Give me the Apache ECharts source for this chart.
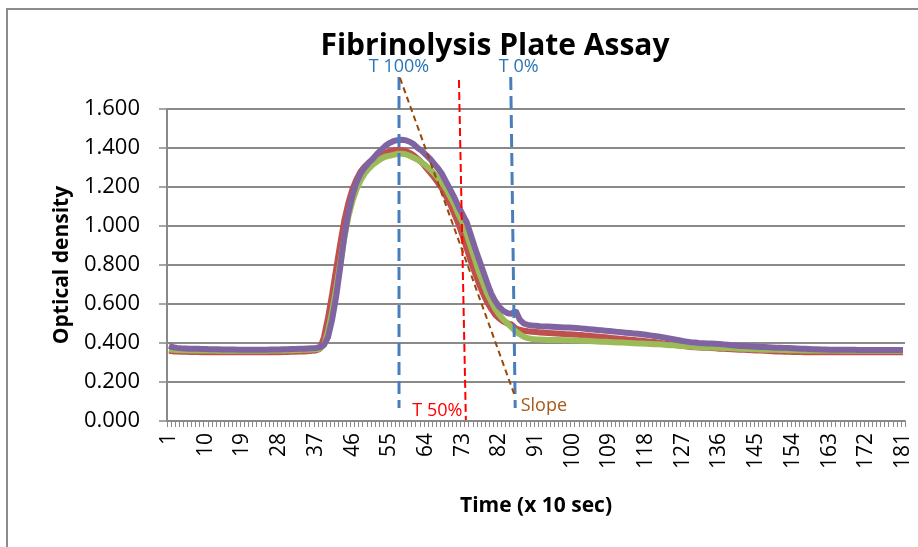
<!DOCTYPE html>
<html>
<head>
<meta charset="utf-8">
<script src="https://cdn.jsdelivr.net/npm/echarts@6/dist/echarts.min.js"></script>
<style>
  html, body { margin: 0; padding: 0; background: #fff; }
  #chart { width: 918px; height: 547px; }
</style>
</head>
<body>
<div id="chart"></div>
<script>
// time points 1..181 (x 10 sec)
var categories = Array.from({ length: 181 }, function(_, i) { return String(i + 1); });

var yTicks = [0, 0.2, 0.4, 0.6, 0.8, 1.0, 1.2, 1.4, 1.6];

// optical density
var redValues = [
  0.360,0.357,0.356,0.355,0.355,0.354,0.354,0.354,0.353,0.353,
  0.353,0.353,0.352,0.352,0.352,0.352,0.352,0.352,0.352,0.352,
  0.352,0.352,0.352,0.352,0.352,0.353,0.353,0.353,0.354,0.354,
  0.355,0.355,0.356,0.357,0.358,0.360,0.362,
  0.370,0.430,0.530,0.650,0.780,0.910,1.030,1.120,1.190,1.240,1.280,1.305,1.325,
  1.340,1.355,1.365,1.375,1.382,1.388,1.390,1.390,1.385,1.375,
  1.362,1.345,1.325,1.300,1.275,1.250,1.220,1.190,1.150,1.110,
  1.060,1.010,0.950,0.885,0.820,0.760,0.705,0.655,0.610,0.575,
  0.545,0.525,0.510,0.500,0.495,0.475,0.468,0.463,0.460,0.458,
  0.456,0.454,0.452,0.451,0.450,0.449,0.448,0.446,0.445,0.444,
  0.442,0.441,0.439,0.437,0.435,0.433,0.431,0.429,0.427,0.425,
  0.423,0.421,0.419,0.417,0.415,0.413,0.411,0.409,0.407,0.405,
  0.402,0.399,0.396,0.393,0.390,0.387,0.384,0.382,0.380,0.378,
  0.377,0.376,0.375,0.374,0.373,0.371,0.370,0.369,0.368,0.367,
  0.366,0.365,0.364,0.363,0.362,0.361,0.360,0.359,0.358,0.357,
  0.356,0.355,0.355,0.354,0.354,0.354,0.353,0.353,0.353,0.353,
  0.353,0.352,0.352,0.352,0.352,0.352,0.352,0.352,0.352,0.352,
  0.352,0.352,0.352,0.352,0.352,0.352,0.352,0.352,0.352,0.352,0.352
];

var greenValues = [
  0.368,0.365,0.364,0.363,0.363,0.362,0.362,0.362,0.361,0.361,
  0.361,0.361,0.360,0.360,0.360,0.360,0.360,0.360,0.360,0.360,
  0.360,0.360,0.360,0.360,0.360,0.361,0.361,0.361,0.362,0.362,
  0.363,0.363,0.364,0.365,0.366,0.367,0.368,
  0.370,0.390,0.460,0.560,0.680,0.810,0.940,1.050,1.130,1.190,1.235,1.270,1.295,
  1.315,1.330,1.345,1.355,1.360,1.365,1.370,1.370,1.368,1.360,
  1.350,1.340,1.325,1.310,1.290,1.270,1.245,1.220,1.190,1.150,
  1.110,1.060,1.020,0.960,0.895,0.830,0.765,0.710,0.655,0.615,
  0.575,0.545,0.520,0.500,0.480,0.460,0.445,0.432,0.425,0.421,
  0.419,0.418,0.417,0.416,0.416,0.415,0.415,0.414,0.414,0.413,
  0.413,0.412,0.411,0.410,0.409,0.408,0.407,0.406,0.405,0.404,
  0.403,0.402,0.401,0.400,0.399,0.398,0.397,0.396,0.395,0.394,
  0.393,0.392,0.390,0.389,0.388,0.386,0.385,0.383,0.382,0.380,
  0.379,0.378,0.377,0.377,0.376,0.375,0.374,0.374,0.373,0.372,
  0.371,0.370,0.369,0.368,0.368,0.367,0.366,0.366,0.365,0.365,
  0.364,0.364,0.363,0.363,0.363,0.362,0.362,0.362,0.362,0.361,
  0.361,0.361,0.361,0.361,0.361,0.360,0.360,0.360,0.360,0.360,
  0.360,0.360,0.360,0.360,0.360,0.360,0.360,0.360,0.360,0.360,0.360
];

var purpleValues = [
  0.385,0.378,0.375,0.373,0.372,0.371,0.370,0.370,0.369,0.369,
  0.368,0.368,0.368,0.367,0.367,0.367,0.367,0.366,0.366,0.366,
  0.366,0.366,0.366,0.366,0.366,0.367,0.367,0.367,0.368,0.368,
  0.369,0.369,0.370,0.371,0.372,0.373,0.374,
  0.378,0.390,0.430,0.520,0.640,0.790,0.950,1.070,1.160,1.225,1.270,1.300,1.325,
  1.345,1.370,1.390,1.410,1.425,1.435,1.440,1.442,1.440,1.432,
  1.420,1.400,1.385,1.365,1.345,1.320,1.295,1.265,1.225,1.185,
  1.145,1.100,1.060,1.020,0.955,0.890,0.830,0.770,0.710,0.655,
  0.615,0.585,0.565,0.553,0.550,0.565,0.520,0.500,0.493,0.490,
  0.488,0.486,0.485,0.484,0.483,0.482,0.481,0.480,0.479,0.478,
  0.477,0.475,0.473,0.471,0.469,0.467,0.465,0.463,0.461,0.459,
  0.457,0.455,0.453,0.451,0.449,0.447,0.445,0.442,0.439,0.436,
  0.433,0.430,0.426,0.422,0.418,0.414,0.410,0.407,0.404,0.402,
  0.400,0.399,0.398,0.397,0.396,0.395,0.393,0.391,0.389,0.387,
  0.385,0.384,0.383,0.382,0.381,0.380,0.379,0.378,0.377,0.376,
  0.376,0.375,0.374,0.373,0.372,0.371,0.370,0.369,0.368,0.368,
  0.367,0.367,0.366,0.366,0.366,0.365,0.365,0.365,0.365,0.364,
  0.364,0.364,0.364,0.364,0.364,0.364,0.364,0.364,0.364,0.364,0.364
];

// hand-drawn annotation lines: [time, optical density] end points
var t100Line = [[57.4, 1.764], [57.4, 0.067]];
var t50Line = [[72.1, 1.749], [73.8, 0.005]];
var t0Line = [[84.8, 1.764], [85.9, 0.067]];
var slopeLine = [[57.65, 1.759], [85.9, 0.123]];

var FONT = '"Open Sans", "Liberation Sans", sans-serif';

var chart = echarts.init(document.getElementById('chart'));

function curve(name, color, values) {
    return {
        name: name,
        type: 'line',
        data: values,
        symbol: 'none',
        smooth: false,
        lineStyle: { color: color, width: 6 },
        itemStyle: { color: color },
        silent: true
    };
}

// dashed annotation line with a text label on one end
function annotation(points, color, width, dash, labelIdx, text, label) {
    var data = points.map(function(p, i) {
        var item = { value: p };
        if (i === labelIdx) {
            item.label = Object.assign({
                show: true,
                formatter: text,
                color: color,
                fontFamily: FONT,
                fontSize: 18
            }, label);
        }
        return item;
    });
    return {
        type: 'line',
        xAxisIndex: 1,
        yAxisIndex: 0,
        data: data,
        clip: false,
        symbol: 'circle',
        symbolSize: 1,
        showSymbol: true,
        itemStyle: { color: 'transparent' },
        lineStyle: { color: color, width: width, type: dash },
        silent: true,
        z: 5
    };
}

var splitColors = yTicks.map(function() { return '#898989'; });

chart.setOption({
    animation: false,
    backgroundColor: '#fff',
    graphic: [{
        type: 'rect',
        shape: { x: 7, y: 9, width: 1000, height: 1000 },
        style: { fill: 'none', stroke: '#8c8c8c', lineWidth: 2 },
        silent: true
    }],
    title: {
        text: 'Fibrinolysis Plate Assay',
        left: 490,
        textAlign: 'center',
        top: 26,
        textStyle: { fontFamily: FONT, fontSize: 30, fontWeight: 'bold', color: '#000' }
    },
    grid: { left: 167, right: 13, top: 109, bottom: 126 },
    xAxis: [{
        type: 'category',
        data: categories,
        boundaryGap: true,
        name: 'Time (x 10 sec)',
        nameLocation: 'middle',
        nameGap: 75,
        nameTextStyle: { fontFamily: FONT, fontSize: 21, fontWeight: 'bold', color: '#000' },
        axisLine: { lineStyle: { color: '#898989', width: 2 } },
        axisTick: { show: true, interval: 0, length: 6, lineStyle: { color: '#898989', width: 1 } },
        axisLabel: {
            interval: 8,
            rotate: 90,
            margin: 12,
            fontFamily: FONT,
            fontSize: 21,
            color: '#000'
        },
        splitLine: { show: false }
    }, {
        type: 'value',
        min: 0.5,
        max: 181.5,
        show: false
    }],
    yAxis: {
        type: 'value',
        min: 0,
        max: 1.6,
        interval: 0.2,
        name: 'Optical density',
        nameLocation: 'middle',
        nameGap: 93,
        nameTextStyle: { fontFamily: FONT, fontSize: 21, fontWeight: 'bold', color: '#000' },
        axisLine: { show: true, lineStyle: { color: '#898989', width: 2 } },
        axisTick: { show: true, length: 8, lineStyle: { color: '#898989', width: 1.5 } },
        axisLabel: {
            margin: 27,
            fontFamily: FONT,
            fontSize: 22,
            color: '#000',
            formatter: function(v) { return v.toFixed(3); }
        },
        splitLine: { lineStyle: { color: splitColors, width: 2 } }
    },
    series: [
        curve('Red', '#c0504d', redValues),
        curve('Green', '#9bbb59', greenValues),
        curve('Purple', '#8064a2', purpleValues),
        annotation(t100Line, '#4a7ebb', 3, [13, 6], 0, 'T 100%',
            { position: 'top', distance: 1, color: '#2e75b6' }),
        annotation(t50Line, '#ff0000', 2, [8, 4], 1, 'T 50%',
            { position: 'left', distance: 3, offset: [0, -9] }),
        annotation(t0Line, '#4a7ebb', 3, [13, 6], 0, 'T 0%',
            { position: 'top', distance: 1, offset: [8, 0], color: '#2e75b6' }),
        annotation(slopeLine, '#984807', 2, [6, 4], 1, 'Slope',
            { position: 'right', distance: 5, offset: [0, 9], color: '#a5591a' })
    ]
});
</script>
</body>
</html>
